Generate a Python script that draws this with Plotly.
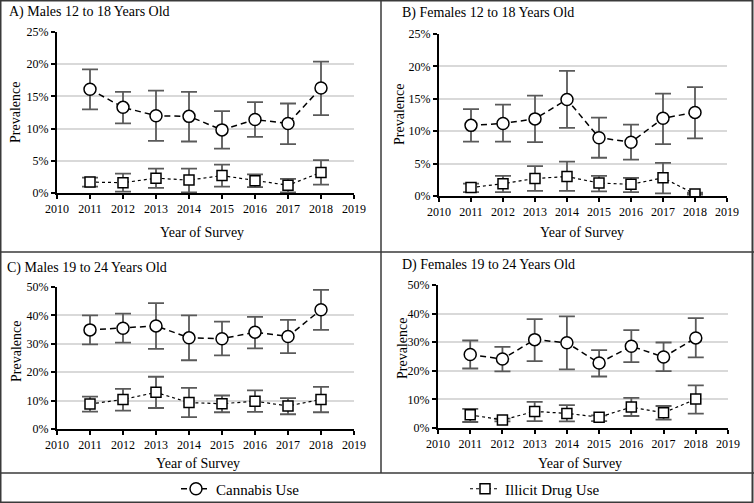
import plotly.graph_objects as go

years = [2011, 2012, 2013, 2014, 2015, 2016, 2017, 2018]

# Panel A: Males 12-18
a_can = [16.1, 13.3, 12.0, 11.9, 9.8, 11.4, 10.8, 16.3]
a_can_lo = [13.0, 10.8, 8.1, 8.0, 6.9, 8.7, 7.6, 12.1]
a_can_hi = [19.2, 15.7, 15.9, 15.7, 12.7, 14.1, 13.9, 20.4]
a_ill = [1.7, 1.6, 2.3, 2.0, 2.7, 1.9, 1.2, 3.2]
a_ill_lo = [1.0, 0.2, 0.8, 0.1, 1.0, 0.9, 0.1, 1.3]
a_ill_hi = [2.4, 3.0, 3.8, 3.8, 4.4, 2.9, 2.2, 5.1]

# Panel B: Females 12-18
b_can = [10.9, 11.2, 11.9, 14.9, 9.0, 8.3, 12.0, 12.9]
b_can_lo = [8.4, 8.4, 8.3, 10.5, 5.9, 5.6, 8.0, 8.9]
b_can_hi = [13.4, 14.1, 15.5, 19.3, 12.1, 11.0, 15.8, 16.8]
b_ill = [1.3, 1.9, 2.7, 3.0, 2.0, 1.8, 2.8, 0.3]
b_ill_lo = [0.6, 0.6, 0.8, 0.8, 0.7, 0.6, 0.4, 0.2]
b_ill_hi = [1.9, 3.1, 4.6, 5.3, 3.1, 2.8, 5.1, 0.5]

# Panel C: Males 19-24
c_can = [34.9, 35.5, 36.3, 32.1, 31.8, 34.1, 32.6, 42.0]
c_can_lo = [29.8, 30.4, 28.2, 24.2, 25.9, 28.4, 26.7, 34.9]
c_can_hi = [40.0, 40.6, 44.3, 40.0, 37.8, 39.5, 38.4, 49.0]
c_ill = [8.8, 10.4, 12.9, 9.3, 8.9, 9.8, 8.1, 10.4]
c_ill_lo = [6.1, 6.5, 7.4, 4.2, 5.9, 6.0, 5.2, 5.9]
c_ill_hi = [11.4, 14.1, 18.4, 14.5, 11.8, 13.6, 10.9, 14.8]

# Panel D: Females 19-24
d_can = [25.7, 24.1, 30.9, 29.8, 22.7, 28.6, 24.8, 31.5]
d_can_lo = [20.8, 19.8, 23.4, 20.5, 18.0, 23.0, 19.9, 24.7]
d_can_hi = [30.6, 28.4, 38.1, 39.0, 27.2, 34.2, 29.9, 38.4]
d_ill = [4.6, 2.8, 5.8, 5.1, 3.8, 7.3, 5.3, 10.1]
d_ill_lo = [2.1, 2.3, 2.4, 2.3, 2.4, 4.2, 2.9, 5.0]
d_ill_hi = [6.7, 3.3, 9.1, 8.0, 4.4, 10.5, 7.7, 14.9]

panel_titles = ["A) Males 12 to 18 Years Old", "B) Females 12 to 18 Years Old",
                "C) Males 19 to 24 Years Old", "D) Females 19 to 24 Years Old"]
series_names = ["Cannabis Use", "Illicit Drug Use"]
x_ticks = [2010, 2011, 2012, 2013, 2014, 2015, 2016, 2017, 2018, 2019]

W, H = 754, 503
FONT = "Liberation Serif"
ERR_COL = "#5a5a5a"

panels = [
    (a_can, a_can_lo, a_can_hi, a_ill, a_ill_lo, a_ill_hi, 25, 5),
    (b_can, b_can_lo, b_can_hi, b_ill, b_ill_lo, b_ill_hi, 25, 5),
    (c_can, c_can_lo, c_can_hi, c_ill, c_ill_lo, c_ill_hi, 50, 10),
    (d_can, d_can_lo, d_can_hi, d_ill, d_ill_lo, d_ill_hi, 50, 10),
]

# pixel boxes (left, right, top, bottom) for each plotting area
boxes = [(57, 354, 32, 193), (439, 727, 34, 196), (57, 354, 287, 429), (438, 728, 285, 428)]

fig = go.Figure()

for i, (can, clo, chi, ill, ilo, ihi, ymax, dt) in enumerate(panels):
    ax = "" if i == 0 else str(i + 1)
    xref, yref = "x" + ax, "y" + ax
    fig.add_trace(go.Scatter(
        x=years, y=ill, xaxis=xref, yaxis=yref, mode="lines+markers",
        name=series_names[1], showlegend=(i == 0), legendrank=2,
        line=dict(color="black", width=1.2, dash="dot"),
        marker=dict(symbol="square", size=10, color="white", line=dict(color="black", width=1.5)),
        error_y=dict(type="data", symmetric=False,
                     array=[h - v for h, v in zip(ihi, ill)],
                     arrayminus=[v - l for v, l in zip(ill, ilo)],
                     color=ERR_COL, thickness=1.8, width=8),
    ))
    fig.add_trace(go.Scatter(
        x=years, y=can, xaxis=xref, yaxis=yref, mode="lines+markers",
        name=series_names[0], showlegend=(i == 0), legendrank=1,
        line=dict(color="black", width=1.5, dash="6px,4px"),
        marker=dict(symbol="circle", size=12, color="white", line=dict(color="black", width=1.5)),
        error_y=dict(type="data", symmetric=False,
                     array=[h - v for h, v in zip(chi, can)],
                     arrayminus=[v - l for v, l in zip(can, clo)],
                     color=ERR_COL, thickness=1.8, width=8),
    ))
    l, r, t, b = boxes[i]
    fig.update_layout(**{
        "xaxis" + ax: dict(domain=[l / W, r / W], range=[2010, 2019], tickvals=x_ticks,
                           showgrid=False, zeroline=False, showline=True, linecolor="black",
                           linewidth=2, ticks="outside", ticklen=4, tickwidth=1.5,
                           tickcolor="black", anchor=yref, automargin=False,
                           tickfont=dict(family=FONT, size=12, color="black")),
        "yaxis" + ax: dict(domain=[1 - b / H, 1 - t / H], range=[0, ymax], dtick=dt,
                           ticksuffix="%", showgrid=True, gridcolor="#d9d9d9", gridwidth=1.5,
                           zeroline=False, showline=True, linecolor="black", linewidth=2,
                           ticks="outside", ticklen=4, tickwidth=1.5, tickcolor="black",
                           anchor=xref, automargin=False,
                           tickfont=dict(family=FONT, size=12, color="black")),
    })

annotations = []
title_pos = [(7, 12), (400, 13), (5, 268), (400, 265)]
for (tx, ty), txt in zip(title_pos, panel_titles):
    annotations.append(dict(x=tx / W, y=1 - ty / H, xref="paper", yref="paper", text=txt,
                            showarrow=False, xanchor="left", yanchor="middle",
                            font=dict(family=FONT, size=14, color="black")))
xtitle_pos = [(202, 232), (582, 232), (198, 463), (580, 463)]
for tx, ty in xtitle_pos:
    annotations.append(dict(x=tx / W, y=1 - ty / H, xref="paper", yref="paper",
                            text="Year of Survey", showarrow=False, xanchor="center",
                            yanchor="middle", font=dict(family=FONT, size=14, color="black")))
ytitle_pos = [(16, 113), (399, 115), (16, 352), (402, 349)]
for tx, ty in ytitle_pos:
    annotations.append(dict(x=tx / W, y=1 - ty / H, xref="paper", yref="paper",
                            text="Prevalence", showarrow=False, textangle=-90,
                            xanchor="center", yanchor="middle",
                            font=dict(family=FONT, size=14, color="black")))

BORDER = "#3a3a3a"
shapes = [
    dict(type="rect", xref="paper", yref="paper", x0=0.5 / W, x1=1 - 1.5 / W, y0=0.5 / H, y1=1 - 0.5 / H,
         line=dict(color=BORDER, width=2)),
    dict(type="line", xref="paper", yref="paper", x0=381 / W, x1=381 / W, y0=1 - 473 / H, y1=1,
         line=dict(color=BORDER, width=1.5)),
    dict(type="line", xref="paper", yref="paper", x0=0, x1=1, y0=1 - 252 / H, y1=1 - 252 / H,
         line=dict(color=BORDER, width=1.5)),
    dict(type="line", xref="paper", yref="paper", x0=0, x1=1, y0=1 - 473 / H, y1=1 - 473 / H,
         line=dict(color=BORDER, width=1.5)),
]

fig.update_layout(
    width=W, height=H, margin=dict(l=0, r=0, t=0, b=0, autoexpand=False),
    paper_bgcolor="white", plot_bgcolor="white",
    font=dict(family=FONT, color="black"),
    annotations=annotations, shapes=shapes,
    showlegend=True,
    legend=dict(orientation="h", x=176 / W, y=1 - 489 / H, xanchor="left", yanchor="middle",
                entrywidth=244, entrywidthmode="pixels", traceorder="normal",
                font=dict(family=FONT, size=15, color="black"), bgcolor="rgba(0,0,0,0)"),
)

fig.write_html("out.html", config={"displayModeBar": False},
               post_script="document.body.style.margin='0';document.body.style.overflow='hidden';")
